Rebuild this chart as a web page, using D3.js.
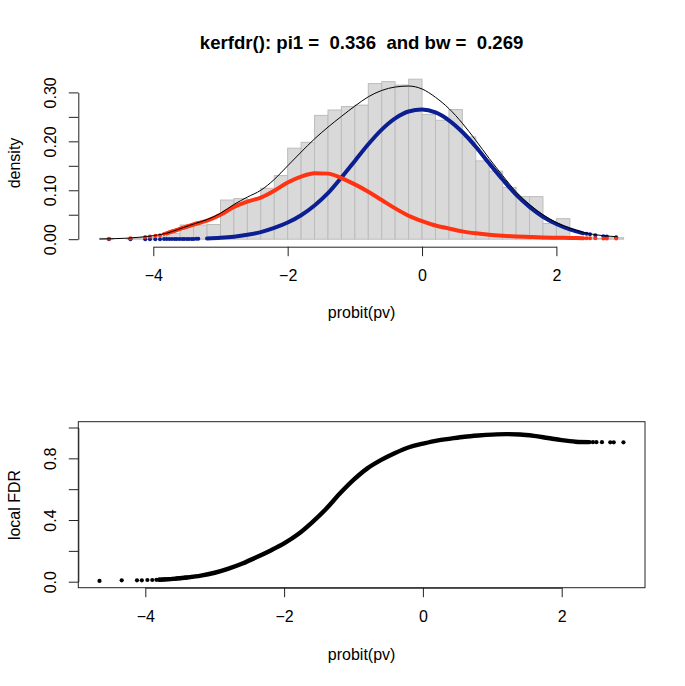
<!DOCTYPE html>
<html><head><meta charset="utf-8">
<script src="https://cdn.jsdelivr.net/npm/d3@7"></script>
<style>
body{margin:0;background:#fff}
text{font-family:"Liberation Sans",Arial,Helvetica,sans-serif;fill:#000}
</style>
</head><body>
<svg id="c" width="685" height="686"></svg>
<script>
// ---------- data ----------
const titleText = "kerfdr(): pi1 =  0.336  and bw =  0.269";
const xLabel = "probit(pv)";
const yLabelTop = "density";
const yLabelBottom = "local FDR";

const xTicks = [-4, -2, 0, 2];
const yTicksTop = [0, 0.05, 0.10, 0.15, 0.20, 0.25, 0.30];
const yTickLabelsTop = ["0.00", "", "0.10", "", "0.20", "", "0.30"];
const yTicksBottom = [0, 0.2, 0.4, 0.6, 0.8, 1.0];
const yTickLabelsBottom = ["0.0", "", "0.4", "", "0.8", ""];

const histBreaks = [-4.8,-4.6,-4.4,-4.2,-4.0,-3.8,-3.6,-3.4,-3.2,-3.0,-2.8,-2.6,-2.4,-2.2,-2.0,-1.8,-1.6,-1.4,-1.2,-1.0,
  -0.8,-0.6,-0.4,-0.2,0.0,0.2,0.4,0.6,0.8,1.0,1.2,1.4,1.6,1.8,2.0,2.2,2.4,2.6,2.8,3.0];
const histDensity = [0.0017,0,0.0017,0.0033,0.005,0.012,0.029,0.029,0.030,0.080,0.083,0.081,0.104,0.130,0.186,0.198,
  0.253,0.264,0.271,0.274,0.318,0.322,0.315,0.327,0.255,0.243,0.265,0.209,0.160,0.139,0.106,0.087,0.087,0.032,0.042,
  0.003,0.004,0.002,0.003];

// mixture density (black line)
const densX = [-4.8,-4.6,-4.4,-4.2,-4.0,-3.8,-3.6,-3.4,-3.2,-3.0,-2.8,-2.6,-2.4,-2.2,-2.0,-1.8,-1.6,-1.4,-1.2,-1.0,
  -0.8,-0.6,-0.4,-0.2,0.0,0.2,0.4,0.6,0.8,1.0,1.2,1.4,1.6,1.8,2.0,2.2,2.4,2.6,2.8,2.9];
const densY = [0.0004,0.001,0.002,0.0041,0.0072,0.0123,0.0215,0.031,0.040,0.053,0.071,0.086,0.100,0.122,0.150,0.178,
  0.205,0.229,0.251,0.272,0.291,0.304,0.311,0.313,0.307,0.290,0.267,0.237,0.202,0.165,0.130,0.097,0.071,0.050,0.034,
  0.0225,0.014,0.0088,0.006,0.0052];

// dense part of the observations
const gridX = [-3.8,-3.6,-3.4,-3.2,-3.0,-2.8,-2.6,-2.4,-2.2,-2.0,-1.8,-1.6,-1.4,-1.2,-1.0,-0.8,-0.6,-0.4,-0.2,0.0,
  0.2,0.4,0.6,0.8,1.0,1.2,1.4,1.6,1.8,2.0,2.2,2.4];
const nullY = [0.0003,0.0005,0.0009,0.0016,0.0029,0.0052,0.009,0.0145,0.023,0.034,0.049,0.069,0.094,0.126,0.160,0.194,
  0.224,0.247,0.261,0.265,0.259,0.243,0.219,0.189,0.155,0.122,0.091,0.066,0.046,0.031,0.020,0.012];
const altY = [0.012,0.021,0.030,0.038,0.050,0.066,0.077,0.085,0.099,0.116,0.128,0.135,0.134,0.125,0.112,0.097,
  0.080,0.063,0.048,0.037,0.028,0.022,0.016,0.012,0.009,0.007,0.0055,0.0045,0.0035,0.003,0.0025,0.002];
const lfdrY = [0.013,0.018,0.027,0.039,0.058,0.085,0.118,0.158,0.201,0.248,0.307,0.383,0.470,0.570,0.660,0.735,
  0.790,0.835,0.872,0.895,0.915,0.928,0.940,0.948,0.954,0.957,0.955,0.946,0.932,0.918,0.908,0.905];

// sparse tail observations
const tailX = [-4.66,-4.34,-4.12,-4.05,-3.97,-3.90,-3.84,-3.80,-3.76,-3.72,-3.68,-3.65,-3.61,-3.57,-3.54,-3.50,
  -3.47,-3.43,-3.40,-3.36,-3.33, 2.45,2.50,2.58,2.70,2.75,2.89];
const tailNull = [0.00001,0.00002,0.00005,0.00007,0.0001,0.00013,0.00017,0.0002,0.00023,0.00026,0.0003,0.00033,
  0.00037,0.00042,0.00046,0.0005,0.00055,0.0006,0.00066,0.00072,0.00078, 0.011,0.010,0.0082,0.006,0.0055,0.0042];
const tailAlt = [0.0008,0.002,0.0045,0.0055,0.0068,0.0083,0.0105,0.012,0.014,0.016,0.0175,0.019,0.021,0.023,0.024,
  0.026,0.027,0.029,0.030,0.032,0.033, 0.002,0.0019,0.0018,0.0016,0.0016,0.0014];
const tailLfdr = [0.005,0.009,0.009,0.009,0.011,0.011,0.012,0.013,0.014,0.015,0.016,0.017,0.018,0.019,0.021,0.022,
  0.024,0.026,0.027,0.029,0.031, 0.905,0.905,0.905,0.904,0.904,0.904];

// ---------- styles ----------
const BLUE = "#0b1f92", RED = "#ff3312", AXIS = "#222";
const svg = d3.select("#c");
svg.append("rect").attr("width",685).attr("height",686).attr("fill","#fff");

// ---------- top panel ----------
const xTop = d3.scaleLinear().domain([-4, 2]).range([153.3, 556.4]);
const yTop = d3.scaleLinear().domain([0, 0.3]).range([239.2, 92.4]);

const topG = svg.append("g");
topG.selectAll("rect.bar").data(histDensity).join("rect")
  .attr("class","bar")
  .attr("x",(d,i)=>xTop(histBreaks[i]))
  .attr("width",(d,i)=>xTop(histBreaks[i+1])-xTop(histBreaks[i]))
  .attr("y",d=>yTop(d))
  .attr("height",d=>yTop(0)-yTop(d))
  .attr("fill","#d9d9d9").attr("stroke","#bcbcbc").attr("stroke-width",1);

const lineTop = d3.line().x(d=>xTop(d[0])).y(d=>yTop(d[1])).curve(d3.curveMonotoneX);

// blue (null component): thick part only where observations are dense
topG.append("path").attr("d", lineTop(gridX.map((x,i)=>[x,nullY[i]]).filter(d=>d[0] > -3.35)))
  .attr("fill","none").attr("stroke",BLUE).attr("stroke-width",4).attr("stroke-linecap","round");
topG.selectAll("circle.bn").data(tailX).join("circle").attr("class","bn")
  .attr("cx",d=>xTop(d)).attr("cy",(d,i)=>yTop(tailNull[i])).attr("r",2).attr("fill",BLUE);
topG.append("path").attr("d", lineTop(gridX.map((x,i)=>[x,altY[i]])))
  .attr("fill","none").attr("stroke",RED).attr("stroke-width",4).attr("stroke-linecap","round");
topG.selectAll("circle.rd").data(tailX).join("circle").attr("class","rd")
  .attr("cx",d=>xTop(d)).attr("cy",(d,i)=>yTop(tailAlt[i])).attr("r",2).attr("fill",RED);
topG.append("path").attr("d", lineTop(densX.map((x,i)=>[x,densY[i]])))
  .attr("fill","none").attr("stroke","#000").attr("stroke-width",1);

const fmtTick = d3.format("d");
// axes
const axT = topG.append("g").attr("transform","translate(0,246.7)")
  .call(d3.axisBottom(xTop).tickValues(xTicks).tickFormat(fmtTick).tickSize(9.5).tickSizeOuter(0).tickPadding(9));
const ayT = topG.append("g").attr("transform","translate(78.3,0)")
  .call(d3.axisLeft(yTop).tickValues(yTicksTop).tickFormat((d,i)=>yTickLabelsTop[i]).tickSize(9.5).tickSizeOuter(0));

// ---------- bottom panel ----------
const xBot = d3.scaleLinear().domain([-4, 2]).range([145.3, 561.7]);
const yBot = d3.scaleLinear().domain([0, 1]).range([581.7, 427.5]);
const botG = svg.append("g");
botG.append("rect").attr("x",78.3).attr("y",421.7).attr("width",645-78.3).attr("height",587.7-421.7)
  .attr("fill","none").attr("stroke",AXIS).attr("stroke-width",1);
const lineBot = d3.line().x(d=>xBot(d[0])).y(d=>yBot(d[1])).curve(d3.curveMonotoneX);
botG.append("path").attr("d", lineBot(gridX.map((x,i)=>[x,lfdrY[i]])))
  .attr("fill","none").attr("stroke","#000").attr("stroke-width",4.4).attr("stroke-linecap","round");
botG.selectAll("circle").data(tailX).join("circle")
  .attr("cx",d=>xBot(d)).attr("cy",(d,i)=>yBot(tailLfdr[i])).attr("r",2.1).attr("fill","#000");
const axB = botG.append("g").attr("transform","translate(0,587.7)")
  .call(d3.axisBottom(xBot).tickValues(xTicks).tickFormat(fmtTick).tickSize(9.5).tickSizeOuter(0).tickPadding(9));
const ayB = botG.append("g").attr("transform","translate(78.3,0)")
  .call(d3.axisLeft(yBot).tickValues(yTicksBottom).tickFormat((d,i)=>yTickLabelsBottom[i]).tickSize(9.5).tickSizeOuter(0));

// axis styling (R-like)
[axT, ayT, axB, ayB].forEach(a=>{
  a.selectAll("path.domain").attr("stroke",AXIS);
  a.selectAll(".tick line").attr("stroke",AXIS);
  a.selectAll("text").style("font-size","16px").attr("fill","#000")
    .style("font-family",'"Liberation Sans",Arial,Helvetica,sans-serif');
});
[axT, axB].forEach(a=>{
  a.selectAll(".tick text").attr("dy",null).attr("y",34.5);
});
[ayT, ayB].forEach(a=>{
  a.selectAll(".tick text").attr("x",null).attr("dy",null)
    .attr("text-anchor","middle").attr("transform","translate(-22,0) rotate(-90)");
});

// ---------- texts ----------
svg.append("text").attr("x",361.6).attr("y",48.5).attr("text-anchor","middle")
  .style("font-size","18.6px").style("font-weight","bold").style("white-space","pre").text(titleText);
svg.append("text").attr("x",361.6).attr("y",318).attr("text-anchor","middle").style("font-size","16px").text(xLabel);
svg.append("text").attr("x",361.6).attr("y",660).attr("text-anchor","middle").style("font-size","16px").text(xLabel);
svg.append("text").attr("transform","translate(20,163) rotate(-90)").attr("text-anchor","middle").style("font-size","16px").text(yLabelTop);
svg.append("text").attr("transform","translate(20,505) rotate(-90)").attr("text-anchor","middle").style("font-size","16px").text(yLabelBottom);
</script>
</body></html>
